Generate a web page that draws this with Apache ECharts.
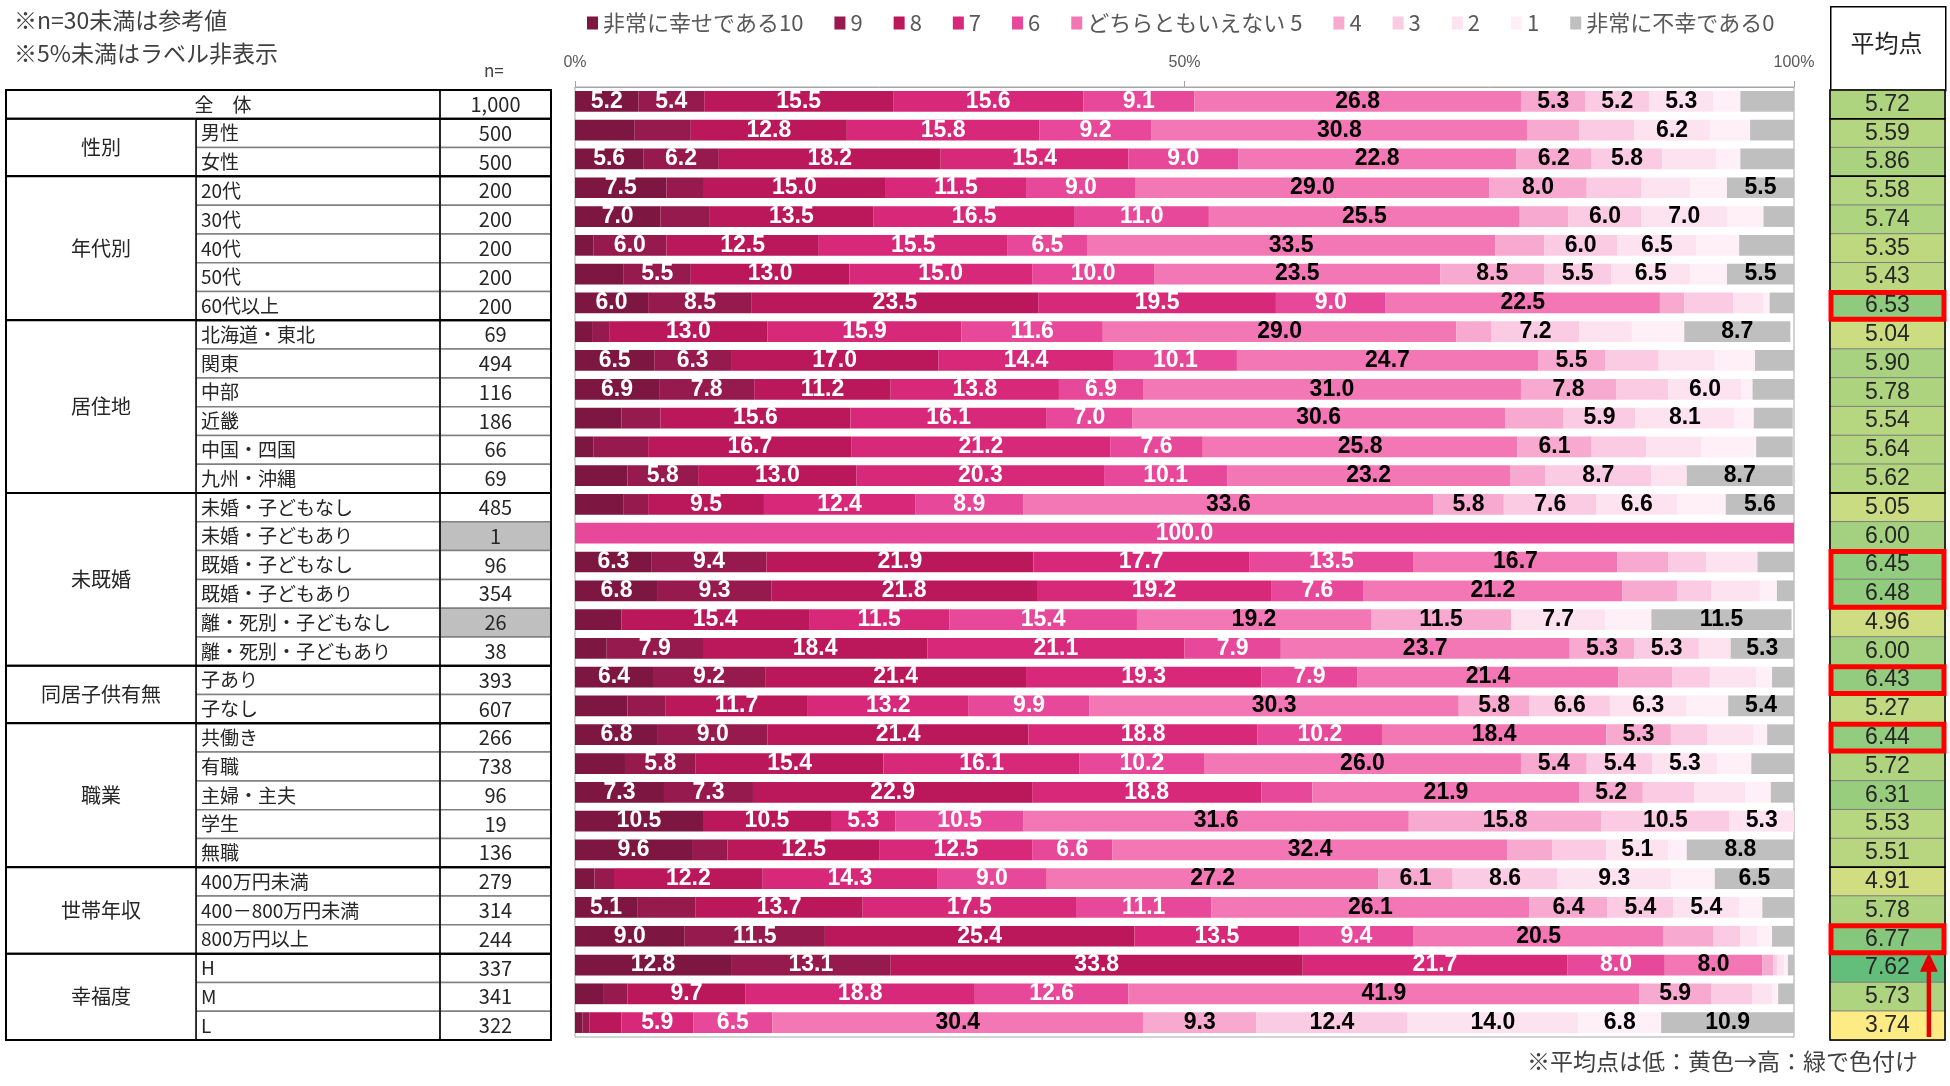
<!doctype html>
<meta charset="utf-8">
<style>
  html, body { margin: 0; padding: 0; width: 100%; height: 100%; background: #fff; }
  #chart { width: 100%; height: 100%; }
</style>
<script src="https://cdn.jsdelivr.net/npm/echarts@6.0.0/dist/echarts.min.js"></script>

<div id="chart"></div>

<script>
  // --- data ---------------------------------------------------------------
  const rowLabels = ['全　体', '男性', '女性', '20代', '30代', '40代', '50代', '60代以上',
    '北海道・東北', '関東', '中部', '近畿', '中国・四国', '九州・沖縄',
    '未婚・子どもなし', '未婚・子どもあり', '既婚・子どもなし', '既婚・子どもあり',
    '離・死別・子どもなし', '離・死別・子どもあり', '子あり', '子なし',
    '共働き', '有職', '主婦・主夫', '学生', '無職',
    '400万円未満', '400－800万円未満', '800万円以上', 'H', 'M', 'L'];
  const sampleSizes = [1000, 500, 500, 200, 200, 200, 200, 200, 69, 494, 116, 186, 66, 69,
    485, 1, 96, 354, 26, 38, 393, 607, 266, 738, 96, 19, 136, 279, 314, 244, 337, 341, 322];
  const greyedRows = [15, 18];
  const averages = [5.72, 5.59, 5.86, 5.58, 5.74, 5.35, 5.43, 6.53, 5.04, 5.90, 5.78, 5.54, 5.64, 5.62,
    5.05, 6.00, 6.45, 6.48, 4.96, 6.00, 6.43, 5.27, 6.44, 5.72, 6.31, 5.53, 5.51, 4.91, 5.78, 6.77,
    7.62, 5.73, 3.74];

  const groupNames = ['', '性別', '年代別', '居住地', '未既婚', '同居子供有無', '職業', '世帯年収', '幸福度'];
  const groupFirst = [0, 1, 3, 8, 14, 20, 22, 27, 30];
  const groupLast  = [0, 2, 7, 13, 19, 21, 26, 29, 32];

  const highlightFirst = [7, 16, 20, 22, 29];
  const highlightLast  = [7, 17, 20, 22, 29];

  const scoreNames = ['非常に幸せである10', '9', '8', '7', '6', 'どちらともいえない 5', '4', '3', '2', '1', '非常に不幸である0'];
  const score10 = [5.2, 4.9, 5.6, 7.5, 7.0, 1.5, 4.0, 6.0, 1.4, 6.5, 6.9, 3.8, 1.5, 4.3, 4.0, 0, 6.3, 6.8, 3.8, 2.6, 6.4, 4.3, 6.8, 4.1, 7.3, 10.5, 9.6, 1.6, 5.1, 9.0, 12.8, 2.3, 0.6];
  const score9  = [5.4, 4.6, 6.2, 3.0, 4.0, 6.0, 5.5, 8.5, 1.4, 6.3, 7.8, 3.2, 4.5, 5.8, 2.0, 0, 9.4, 9.3, 0, 7.9, 9.2, 3.1, 9.0, 5.8, 7.3, 0, 2.9, 1.6, 4.8, 11.5, 13.1, 2.0, 0.6];
  const score8  = [15.5, 12.8, 18.2, 15.0, 13.5, 12.5, 13.0, 23.5, 13.0, 17.0, 11.2, 15.6, 16.7, 13.0, 9.5, 0, 21.9, 21.8, 15.4, 18.4, 21.4, 11.7, 21.4, 15.4, 22.9, 10.5, 12.5, 12.2, 13.7, 25.4, 33.8, 9.7, 2.6];
  const score7  = [15.6, 15.8, 15.4, 11.5, 16.5, 15.5, 15.0, 19.5, 15.9, 14.4, 13.8, 16.1, 21.2, 20.3, 12.4, 0, 17.7, 19.2, 11.5, 21.1, 19.3, 13.2, 18.8, 16.1, 18.8, 5.3, 12.5, 14.3, 17.5, 13.5, 21.7, 18.8, 5.9];
  const score6  = [9.1, 9.2, 9.0, 9.0, 11.0, 6.5, 10.0, 9.0, 11.6, 10.1, 6.9, 7.0, 7.6, 10.1, 8.9, 100.0, 13.5, 7.6, 15.4, 7.9, 7.9, 9.9, 10.2, 10.2, 4.2, 10.5, 6.6, 9.0, 11.1, 9.4, 8.0, 12.6, 6.5];
  const score5  = [26.8, 30.8, 22.8, 29.0, 25.5, 33.5, 23.5, 22.5, 29.0, 24.7, 31.0, 30.6, 25.8, 23.2, 33.6, 0, 16.7, 21.2, 19.2, 23.7, 21.4, 30.3, 18.4, 26.0, 21.9, 31.6, 32.4, 27.2, 26.1, 20.5, 8.0, 41.9, 30.4];
  const score4  = [5.3, 4.3, 6.2, 8.0, 4.0, 4.0, 8.5, 2.0, 2.9, 5.5, 7.8, 4.8, 6.1, 2.9, 5.8, 0, 4.2, 4.5, 11.5, 5.3, 4.4, 5.8, 5.3, 5.4, 5.2, 15.8, 3.7, 6.1, 6.4, 4.1, 0.9, 5.9, 9.3];
  const score3  = [5.2, 4.5, 5.8, 4.5, 6.0, 6.0, 5.5, 4.0, 7.2, 4.4, 4.3, 5.9, 4.5, 8.7, 7.6, 0, 3.1, 2.8, 0, 5.3, 3.1, 6.6, 3.0, 5.4, 4.2, 10.5, 4.4, 8.6, 5.4, 2.2, 0.3, 3.4, 12.4];
  const score2  = [5.3, 6.2, 4.4, 4.0, 7.0, 6.5, 6.5, 2.5, 4.3, 4.6, 6.0, 8.1, 4.5, 2.9, 6.6, 0, 4.2, 4.0, 7.7, 2.6, 3.8, 6.3, 3.8, 5.3, 4.2, 5.3, 5.1, 9.3, 5.4, 1.4, 0.6, 1.6, 14.0];
  const score1  = [2.2, 3.3, 2.0, 3.0, 3.0, 3.5, 3.0, 0.5, 4.3, 3.3, 0.9, 1.6, 4.5, 0, 4.0, 0, 0, 1.4, 3.8, 0, 1.3, 3.4, 1.1, 2.8, 2.1, 0, 1.5, 3.6, 1.9, 1.2, 0.3, 0.5, 6.8];
  const score0  = [4.4, 3.6, 4.4, 5.5, 2.5, 4.5, 5.5, 2.0, 8.7, 3.2, 3.4, 3.2, 3.0, 8.7, 5.6, 0, 3.1, 1.4, 11.5, 5.3, 1.8, 5.4, 2.2, 3.5, 2.1, 0, 8.8, 6.5, 2.6, 1.8, 0.5, 1.3, 10.9];
  const scoreSeries = [score10, score9, score8, score7, score6, score5, score4, score3, score2, score1, score0];

  // --- layout & style -------------------------------------------------------
  const scoreColors = ['#7d1741', '#961a4e', '#bb175b', '#d8287a', '#e84899', '#f277b4',
    '#f8a9cf', '#fbcbe3', '#fde3ef', '#fef0f6', '#bfbfbf'];
  const JP = "'Noto Sans CJK JP', sans-serif";
  const NUM = "'Liberation Sans', Arial, sans-serif";
  const TABLE = { left: 6, top: 90, width: 545, height: 950, colGroup: 190, colLabel: 434 };
  const BARS = { left: 575, top: 87, width: 1219, height: 950 };
  const AVG = { left: 1830, top: 90, width: 115, height: 950 };

  const chart = echarts.init(document.getElementById('chart'));
  const rowIdx = rowLabels.map((_, i) => i);

  function rowBox(api, i) {
    const h = api.size([0, 1])[1];
    return { top: api.coord([0, i])[1] - h / 2, h: h };
  }

  function renderRow(params, api) {
    const i = api.value(0);
    const b = rowBox(api, i);
    const x0 = api.coord([0, i])[0];
    const x1 = api.coord([TABLE.colGroup, i])[0];
    const x2 = api.coord([TABLE.colLabel, i])[0];
    const x3 = api.coord([TABLE.width, i])[0];
    const total = i === 0;
    const lx = total ? x0 : x1;
    const yc = b.top + b.h / 2;
    return {
      type: 'group',
      children: [
        { type: 'rect', shape: { x: lx, y: b.top, width: x2 - lx, height: b.h },
          style: { fill: '#fff', stroke: '#808080', lineWidth: 1.5 } },
        { type: 'rect', shape: { x: x2, y: b.top, width: x3 - x2, height: b.h },
          style: { fill: greyedRows.includes(i) ? '#bfbfbf' : '#fff', stroke: '#808080', lineWidth: 1.5 } },
        { type: 'text', style: { text: rowLabels[i], x: total ? (x0 + x2) / 2 : x1 + 5, y: yc,
          align: total ? 'center' : 'left', verticalAlign: 'middle', fontFamily: JP, fontSize: 19, fill: '#262626' } },
        { type: 'text', style: { text: sampleSizes[i].toLocaleString('en-US'), x: (x2 + x3) / 2, y: yc,
          align: 'center', verticalAlign: 'middle', fontFamily: JP, fontSize: 20, fill: '#262626' } }
      ]
    };
  }

  function renderGroup(params, api) {
    const a = api.value(0), z = api.value(1);
    const top = rowBox(api, a).top;
    const bottom = rowBox(api, z).top + rowBox(api, z).h;
    const x0 = api.coord([0, a])[0];
    const x1 = api.coord([TABLE.colGroup, a])[0];
    const x2 = api.coord([TABLE.colLabel, a])[0];
    const x3 = api.coord([TABLE.width, a])[0];
    const name = groupNames[params.dataIndex];
    const children = [];
    if (name) {
      children.push({ type: 'rect', shape: { x: x0, y: top, width: x1 - x0, height: bottom - top },
        style: { fill: '#fff', stroke: '#000', lineWidth: 1.5 } });
      children.push({ type: 'text', style: { text: name, x: (x0 + x1) / 2, y: (top + bottom) / 2,
        align: 'center', verticalAlign: 'middle', fontFamily: JP, fontSize: 20, fill: '#262626' } });
    }
    children.push({ type: 'line', shape: { x1: x2, y1: top, x2: x2, y2: bottom }, style: { stroke: '#000', lineWidth: 1.5 } });
    children.push({ type: 'rect', shape: { x: x0, y: top, width: x3 - x0, height: bottom - top },
      style: { fill: 'none', stroke: '#000', lineWidth: 2 } });
    return { type: 'group', children };
  }

  function renderAvgBlock(params, api) {
    const a = api.value(0), z = api.value(1);
    const top = rowBox(api, a).top;
    const last = rowBox(api, z);
    const w = api.size([1, 1])[0];
    const x = api.coord([0, a])[0] - w / 2;
    return { type: 'rect', shape: { x: x, y: top, width: w, height: last.top + last.h - top },
      style: { fill: 'none', stroke: '#000', lineWidth: 1.5 } };
  }

  function renderHighlight(params, api) {
    const a = api.value(0), z = api.value(1);
    const top = rowBox(api, a).top;
    const last = rowBox(api, z);
    const w = api.size([1, 1])[0];
    const x = api.coord([0, a])[0] - w / 2;
    return { type: 'rect', shape: { x: x + 1, y: top + 1, width: w - 2, height: last.top + last.h - top - 2 },
      style: { fill: 'none', stroke: '#ff0000', lineWidth: 5 } };
  }

  function renderArrow(params, api) {
    const from = api.value(0), to = api.value(1);
    const fb = rowBox(api, from), tb = rowBox(api, to);
    const w = api.size([1, 1])[0];
    const x = api.coord([0, from])[0] - w / 2 + w * 0.86;
    const yTail = fb.top + fb.h - 3;
    const yTip = tb.top + tb.h - 1;
    return {
      type: 'group',
      children: [
        { type: 'line', shape: { x1: x, y1: yTail, x2: x, y2: yTip + 16 }, style: { stroke: '#e00000', lineWidth: 4.5 } },
        { type: 'polygon', shape: { points: [[x, yTip], [x - 9, yTip + 19], [x + 9, yTip + 19]] }, style: { fill: '#e00000' } }
      ]
    };
  }

  const barSeries = scoreNames.map((name, k) => ({
    name: name,
    type: 'bar',
    stack: 'share',
    xAxisIndex: 1,
    yAxisIndex: 1,
    barWidth: '72%',
    itemStyle: { color: scoreColors[k] },
    label: {
      show: true,
      position: 'inside',
      formatter: p => (p.value >= 5 ? p.value.toFixed(1) : ''),
      color: k < 5 ? '#fff' : '#000',
      fontWeight: 'bold',
      fontFamily: NUM,
      fontSize: 23
    },
    data: scoreSeries[k]
  }));

  chart.setOption({
    animation: false,
    backgroundColor: '#fff',
    legend: {
      data: scoreNames,
      left: 582,
      top: 7,
      icon: 'rect',
      itemWidth: 11,
      itemHeight: 13,
      itemGap: 31,
      selectedMode: false,
      textStyle: { fontFamily: JP, fontSize: 22, color: '#595959' }
    },
    grid: [
      { left: TABLE.left, top: TABLE.top, width: TABLE.width, height: TABLE.height },
      { left: BARS.left, top: BARS.top, width: BARS.width, height: BARS.height,
        show: true, borderColor: '#a6a6a6', borderWidth: 1 },
      { left: AVG.left, top: AVG.top, width: AVG.width, height: AVG.height }
    ],
    xAxis: [
      { gridIndex: 0, type: 'value', min: 0, max: TABLE.width, show: false },
      { gridIndex: 1, type: 'value', min: 0, max: 100, interval: 50, position: 'top',
        axisLine: { show: true, lineStyle: { color: '#a6a6a6' } },
        axisTick: { show: true, length: 6, lineStyle: { color: '#a6a6a6' } },
        splitLine: { show: false },
        axisLabel: { formatter: '{value}%', color: '#595959', fontSize: 16, fontFamily: NUM, margin: 16 } },
      { gridIndex: 2, type: 'category', data: ['平均点'], show: false }
    ],
    yAxis: [
      { gridIndex: 0, type: 'category', data: rowLabels, inverse: true, show: false },
      { gridIndex: 1, type: 'category', data: rowLabels, inverse: true,
        axisLine: { show: false }, axisTick: { show: false }, axisLabel: { show: false } },
      { gridIndex: 2, type: 'category', data: rowLabels, inverse: true, show: false }
    ],
    visualMap: {
      show: false,
      seriesIndex: scoreNames.length + 2,
      dimension: 2,
      min: Math.min(...averages),
      max: Math.max(...averages),
      inRange: { color: ['#ffeb84', '#63be7b'] }
    },
    graphic: [
      { type: 'text', left: 14, top: 9, style: { text: '※n=30未満は参考値', fontFamily: JP, fontSize: 23, fill: '#404040' } },
      { type: 'text', left: 14, top: 42, style: { text: '※5%未満はラベル非表示', fontFamily: JP, fontSize: 23, fill: '#404040' } },
      { type: 'text', left: 484, top: 62, style: { text: 'n=', fontFamily: JP, fontSize: 17, fill: '#404040' } },
      { type: 'rect', left: AVG.left, top: 6, shape: { width: AVG.width, height: AVG.top - 6 },
        style: { fill: '#fff', stroke: '#000', lineWidth: 1.5 } },
      { type: 'text', left: AVG.left + AVG.width / 2 - 37, top: 31, style: { text: '平均点', fontFamily: JP, fontSize: 24, fill: '#262626' } },
      { type: 'text', right: 32, top: 1050, style: { text: '※平均点は低：黄色→高：緑で色付け', fontFamily: JP, fontSize: 23, fill: '#404040' } }
    ],
    series: [
      ...barSeries,
      { type: 'custom', xAxisIndex: 0, yAxisIndex: 0, renderItem: renderRow, data: rowIdx.map(i => [i]), z: 2 },
      { type: 'custom', xAxisIndex: 0, yAxisIndex: 0, renderItem: renderGroup,
        data: groupFirst.map((f, k) => [f, groupLast[k]]), z: 3 },
      { type: 'heatmap', xAxisIndex: 2, yAxisIndex: 2,
        data: averages.map((v, i) => [0, i, v]),
        itemStyle: { borderColor: '#7f7f7f', borderWidth: 1 },
        label: { show: true, formatter: p => p.value[2].toFixed(2), fontFamily: NUM, fontSize: 23, color: '#262626' },
        z: 2 },
      { type: 'custom', xAxisIndex: 2, yAxisIndex: 2, renderItem: renderAvgBlock,
        data: groupFirst.map((f, k) => [f, groupLast[k]]), z: 3 },
      { type: 'custom', xAxisIndex: 2, yAxisIndex: 2, renderItem: renderHighlight,
        data: highlightFirst.map((f, k) => [f, highlightLast[k]]), z: 4 },
      { type: 'custom', xAxisIndex: 2, yAxisIndex: 2, renderItem: renderArrow, data: [[32, 29]], z: 5 }
    ]
  });
</script>
